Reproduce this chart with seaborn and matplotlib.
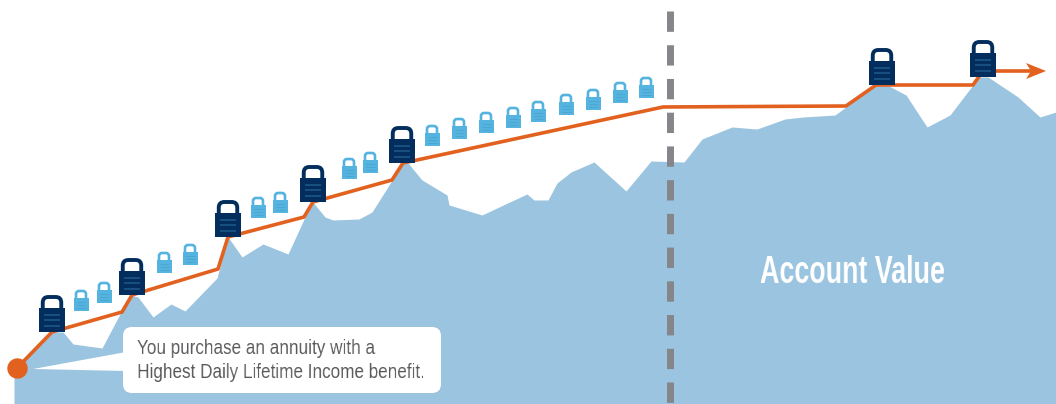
import matplotlib
matplotlib.use("Agg")
import matplotlib.pyplot as plt
from matplotlib.patches import FancyBboxPatch, Polygon, Rectangle
import numpy as np
import seaborn as sns
import pandas as pd

# Account value silhouette
account_x = [14, 52, 63, 73, 102, 130, 138, 153, 171, 185, 217, 228, 242, 263, 288, 305, 312, 325, 333, 359,
             372, 403, 408, 422, 447, 449, 482, 514, 527, 534, 548, 557, 571, 594, 626, 651, 684, 702, 732,
             757, 785, 803, 835, 876, 887, 906, 927, 950, 979, 988, 1018, 1040, 1056]
account_y = [372, 332, 332, 344, 348, 295, 297, 317, 304, 311, 278, 237, 257, 244, 254, 217, 201, 217, 220, 219,
             212, 163, 163, 180, 195, 205, 215, 200, 194, 200, 200, 183, 172, 162, 191, 161, 162, 139, 127,
             129, 119, 117, 115, 85, 85, 95, 127, 115, 77, 77, 97, 117, 112]

# Protected income path
income_x = [17, 52, 122, 132, 218, 228, 304, 313, 392, 403, 663, 846, 876, 973, 983, 1032]
income_y = [368, 332, 312, 295, 269, 237, 217, 202, 180, 163, 107, 106, 85, 85, 71, 71]

# Padlocks: x centre and bottom edge
step_lock_x = [52, 132, 228, 313, 402, 882, 983]
step_lock_y = [332, 295, 237, 202, 163, 85, 77]
daily_lock_x = [81, 104, 164, 190, 258, 280, 349, 370, 432, 459, 486, 513, 538, 566, 593, 620, 646]
daily_lock_y = [311, 303, 273, 265, 218, 213, 179, 173, 146, 139, 133, 128, 122, 115, 110, 103, 98]

callout_lines = ["You purchase an annuity with a", "Highest Daily Lifetime Income benefit."]
area_text = "Account Value"

BLUE = "#9AC4DF"
ORANGE = "#E2611F"
NAVY = "#022D5C"
SKY = "#55B4DF"
GRAY = "#85858A"

sns.set_theme(style="white")
plt.rcParams["font.family"] = ["Liberation Sans", "DejaVu Sans"]

fig = plt.figure(figsize=(10.56, 4.04), dpi=100)
ax = fig.add_axes([0, 0, 1, 1])


def condense(factor):
    """Agg filter that narrows a rendered text run horizontally, left edge fixed."""
    def squeeze(img, dpi):
        h, w = img.shape[:2]
        new_w = max(int(round(w * factor)), 1)
        xs = (np.arange(new_w) + 0.5) / factor - 0.5
        out = np.stack([
            np.stack([np.interp(xs, np.arange(w), img[r, :, c]) for r in range(h)])
            for c in range(img.shape[2])
        ], axis=2)
        return out, 0, 0
    return squeeze


ax.fill_between(account_x, account_y, 404, color=BLUE, lw=0, zorder=1)

# Divider between accumulation and income phases
ax.plot([670, 670], [11, 404], color=GRAY, lw=5, zorder=2,
        dashes=(20.5 / 7, 13.5 / 7), dash_capstyle="butt")

# Callout bubble with its pointer
ax.add_patch(Polygon([(33, 369), (126, 352), (126, 371)], color="white", lw=0, zorder=3))
ax.add_patch(FancyBboxPatch((131, 335), 302, 50, boxstyle="round,pad=8,rounding_size=9",
                            fc="white", ec="none", zorder=3))
for line, ypos in zip(callout_lines, [348, 373]):
    t = ax.text(137, ypos, line, color="#58585A", fontsize=15, va="center", ha="left", zorder=4)
    t.set_agg_filter(condense(0.82))

income = pd.DataFrame({"x": income_x, "y": income_y})
sns.lineplot(data=income, x="x", y="y", sort=False, estimator=None, color=ORANGE,
             lw=2.6, ax=ax, zorder=5)
ax.set_xlim(0, 1056)
ax.set_ylim(404, 0)
ax.axis("off")
ax.scatter([income_x[0]], [income_y[0]], s=215, color=ORANGE, lw=0, zorder=6)
tip = income_x[-1]
level = income_y[-1]
ax.add_patch(Polygon([(tip - 6, level - 8), (tip + 14, level), (tip - 6, level + 8), (tip - 1, level)],
                     color=ORANGE, lw=0, zorder=6))


def padlock(x, bottom, width, body_h, shackle_w, shackle_h, shackle_lw, color, stripe, stripe_lw):
    """Draw one padlock from its centre x and bottom edge."""
    top = bottom - body_h
    radius = shackle_w * 0.3
    ax.add_patch(FancyBboxPatch(
        (x - shackle_w / 2 + radius, top - shackle_h + radius),
        shackle_w - 2 * radius, shackle_h + 2,
        boxstyle=f"round,pad={radius},rounding_size={radius}",
        fc="white", ec=color, lw=shackle_lw, zorder=7))
    ax.add_patch(Rectangle((x - width / 2, top), width, body_h, fc=color, ec="none", zorder=8))
    for frac in (0.3, 0.52, 0.74):
        ax.plot([x - width * 0.3, x + width * 0.3], [top + body_h * frac] * 2,
                color=stripe, lw=stripe_lw, zorder=9, solid_capstyle="butt")


for lx, ly in zip(daily_lock_x, daily_lock_y):
    padlock(lx, ly, 15, 13, 10, 7, 1.9, SKY, "#4BA6D2", 0.7)
for lx, ly in zip(step_lock_x, step_lock_y):
    padlock(lx, ly, 26, 24, 18.5, 11, 2.8, NAVY, "#1E5A8C", 1.1)

t = ax.text(760, 273, area_text, color="white", fontsize=27, fontweight="bold",
            ha="left", va="center", zorder=4)
t.set_agg_filter(condense(0.715))

fig.savefig("out.png", dpi=100)
